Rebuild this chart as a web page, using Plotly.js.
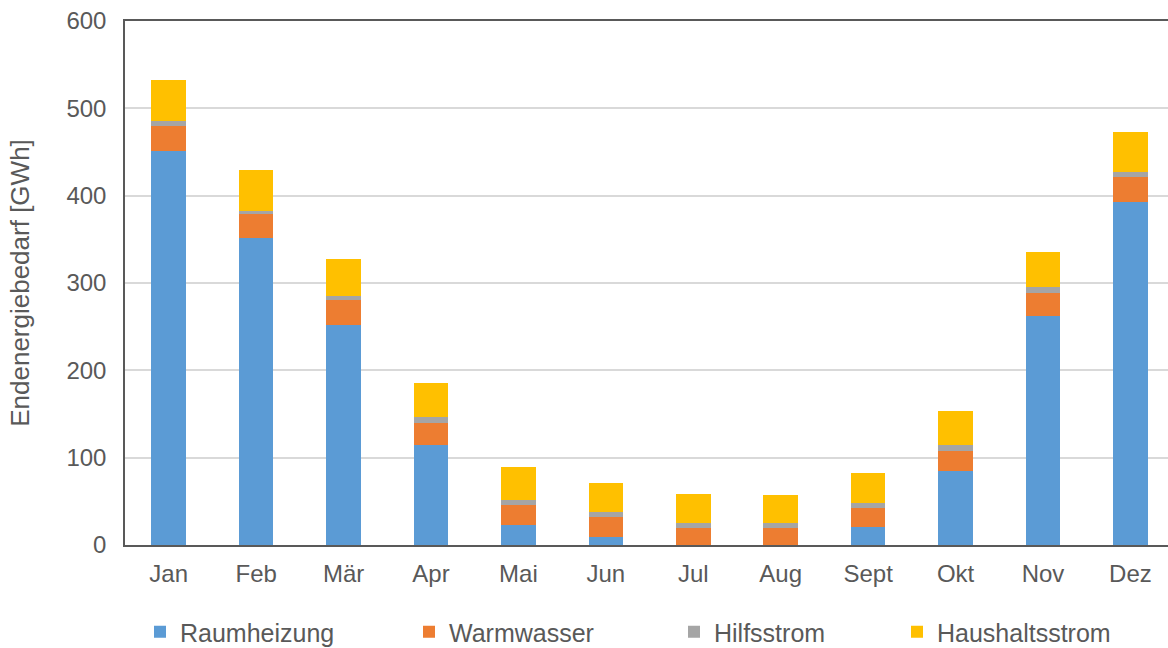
<!DOCTYPE html>
<html>
<head>
<meta charset="utf-8">
<script src="https://cdn.plot.ly/plotly-3.0.1.min.js"></script>
<style>
html,body{margin:0;padding:0;overflow:hidden;background:#fff;}
#chart{width:1168px;height:648px;}
</style>
</head>
<body>
<div id="chart"></div>
<script>
const months = ["Jan","Feb","Mär","Apr","Mai","Jun","Jul","Aug","Sept","Okt","Nov","Dez"];
const raumheizung   = [451, 352, 252, 115, 22.5, 9, 0, 0, 21, 85, 262, 393];
const warmwasser    = [29, 27, 28, 25, 23.5, 22.5, 19, 19, 21, 23, 27, 28];
const hilfsstrom    = [6, 4, 5, 6, 6, 6, 6, 6, 6, 6, 6, 6];
const haushaltsstrom= [47, 46, 43, 39, 37, 34, 33, 32, 35, 40, 41, 46];

const seriesNames = ["Raumheizung","Warmwasser","Hilfsstrom","Haushaltsstrom"];
const seriesData = [raumheizung, warmwasser, hilfsstrom, haushaltsstrom];
const colors = ["#5B9BD5","#ED7D31","#A5A5A5","#FFC000"];
const legendIds = ["legend","legend2","legend3","legend4"];
const legendX = [140, 409, 674, 897];

const font = "Liberation Sans, Arial, sans-serif";
const txt = "#595959";

const traces = seriesNames.map((n,i)=>({
  type:"bar", name:n, x:months, y:seriesData[i],
  marker:{color:colors[i], line:{width:0}},
  legend: legendIds[i], hoverinfo:"x+y+name"
}));

const layout = {
  width:1168, height:648,
  margin:{l:125, r:0, t:21, b:103},
  barmode:"stack", bargap:0.606,
  paper_bgcolor:"#fff", plot_bgcolor:"#fff",
  font:{family:font, size:24, color:txt},
  xaxis:{
    type:"category", range:[-0.5, 11.43],
    showline:true, mirror:true, linecolor:"#595959", linewidth:1.5,
    showgrid:false, ticks:"", ticklabelstandoff:6,
    tickfont:{family:font, size:24, color:txt}
  },
  yaxis:{
    range:[0,600], dtick:100, tick0:0,
    showline:true, linecolor:"#595959", linewidth:1.5,
    showgrid:true, gridcolor:"#D9D9D9", gridwidth:1.5,
    zeroline:false, ticks:"", ticklabelstandoff:12,
    tickfont:{family:font, size:24, color:txt},
    automargin:true,
    title:{text:"Endenergiebedarf [GWh]", standoff:29, font:{family:font, size:26, color:txt}}
  },
  showlegend:true
};
legendIds.forEach((id,i)=>{
  layout[id] = {
    xref:"container", yref:"container",
    x: legendX[i]/1168, y: 1-632/648, xanchor:"left", yanchor:"middle",
    orientation:"h", bgcolor:"rgba(0,0,0,0)",
    font:{family:font, size:25, color:txt}, itemwidth:30
  };
});

Plotly.newPlot("chart", traces, layout, {displayModeBar:false});
</script>
</body>
</html>
